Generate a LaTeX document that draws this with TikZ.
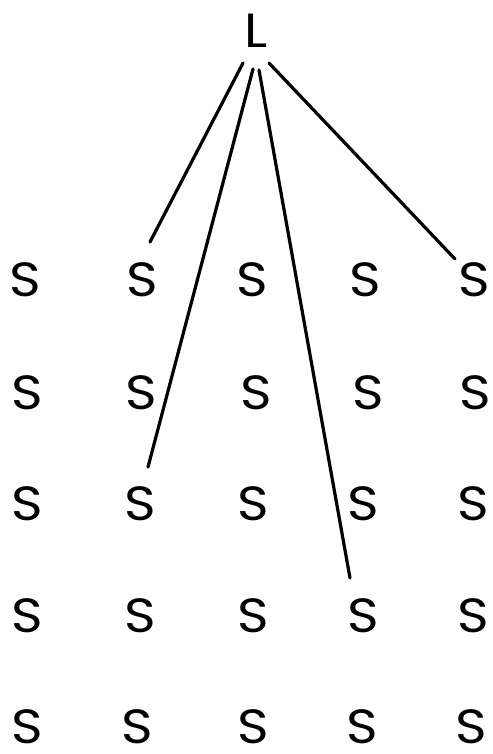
\documentclass[tikz,border=0pt]{standalone}
\usepackage{fontspec}
\setmainfont[FakeStretch=1.12]{Poppins}
\usetikzlibrary{calc}
\begin{document}
\begin{tikzpicture}[x=1pt,y=-1pt,
  letter/.style={inner sep=0pt,font=\fontsize{48}{48}\selectfont},
  link/.style={line width=3.2pt,line cap=round}]
\useasboundingbox (0,0) rectangle (492,754);
\node[letter] (L) at (256,31) {L};
% row 1
\node[letter] (s11) at (25,280) {S};
\node[letter] (s12) at (142,280) {S};
\node[letter] (s13) at (252,280) {S};
\node[letter] (s14) at (365,280) {S};
\node[letter] (s15) at (474,280) {S};
% row 2
\node[letter] (s21) at (27,393) {S};
\node[letter] (s22) at (141,393) {S};
\node[letter] (s23) at (256,393) {S};
\node[letter] (s24) at (368,393) {S};
\node[letter] (s25) at (475,393) {S};
% row 3
\node[letter] (s31) at (27,504) {S};
\node[letter] (s32) at (140,504) {S};
\node[letter] (s33) at (253,504) {S};
\node[letter] (s34) at (363,504) {S};
\node[letter] (s35) at (473,504) {S};
% row 4
\node[letter] (s41) at (27,616) {S};
\node[letter] (s42) at (140,616) {S};
\node[letter] (s43) at (253,616) {S};
\node[letter] (s44) at (363,616) {S};
\node[letter] (s45) at (473,616) {S};
% row 5
\node[letter] (s51) at (27,727) {S};
\node[letter] (s52) at (137,727) {S};
\node[letter] (s53) at (253,727) {S};
\node[letter] (s54) at (362,727) {S};
\node[letter] (s55) at (471,727) {S};
% connector ends
\coordinate (a0) at ($(L)+(-13,32)$);
\coordinate (b0) at ($(L)+(-3,38)$);
\coordinate (c0) at ($(L)+(3,39)$);
\coordinate (d0) at ($(L)+(13,32)$);
\coordinate (a1) at ($(s12)+(8,-38)$);
\coordinate (b1) at ($(s32)+(8,-37)$);
\coordinate (c1) at ($(s44)+(-13,-38)$);
\coordinate (d1) at ($(s15)+(-19,-21)$);
\draw[link] (a0) -- (a1);
\draw[link] (b0) -- (b1);
\draw[link] (c0) -- (c1);
\draw[link] (d0) -- (d1);
\end{tikzpicture}
\end{document}
